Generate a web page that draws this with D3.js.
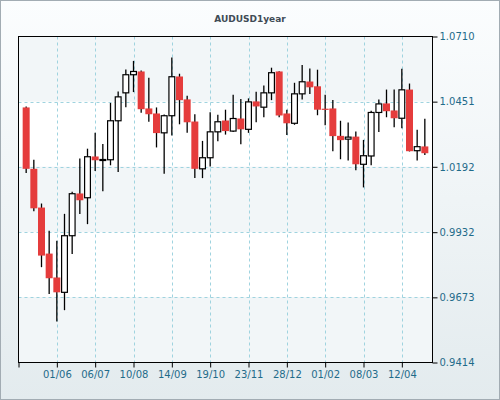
<!DOCTYPE html>
<html><head><meta charset="utf-8">
<script src="https://cdn.jsdelivr.net/npm/d3@7"></script>
<style>html,body{margin:0;padding:0;background:#fff}svg{display:block}</style>
</head><body>
<script>
const title = "AUDUSD1year";
const dates = ["2012-05-04","2012-05-11","2012-05-18","2012-05-25","2012-06-01","2012-06-08","2012-06-15","2012-06-22","2012-06-29",
"2012-07-06","2012-07-13","2012-07-20","2012-07-27","2012-08-03","2012-08-10","2012-08-17","2012-08-24","2012-08-31",
"2012-09-07","2012-09-14","2012-09-21","2012-09-28","2012-10-05","2012-10-12","2012-10-19","2012-10-26",
"2012-11-02","2012-11-09","2012-11-16","2012-11-23","2012-11-30","2012-12-07","2012-12-14","2012-12-21","2012-12-28",
"2013-01-04","2013-01-11","2013-01-18","2013-01-25","2013-02-01","2013-02-08","2013-02-15","2013-02-22",
"2013-03-01","2013-03-08","2013-03-15","2013-03-22","2013-03-29","2013-04-05","2013-04-12","2013-04-19","2013-04-26","2013-05-03"];
const open  = [1.0428,1.0184,1.0030,0.9847,0.9752,0.9693,0.9918,1.0086,1.0069,1.0233,1.0219,1.0220,1.0375,1.0486,1.0558,1.0571,1.0424,1.0404,
1.0327,1.0395,1.0551,1.0460,1.0372,1.0184,1.0228,1.0331,1.0376,1.0334,1.0384,1.0341,1.0452,1.0429,1.0486,1.0571,1.0404,1.0365,1.0482,
1.0531,1.0512,1.0423,1.0424,1.0315,1.0302,1.0312,1.0202,1.0235,1.0408,1.0444,1.0416,1.0385,1.0499,1.0256,1.0273];
const high  = [1.0432,1.0220,1.0046,0.9938,0.9898,1.0005,1.0093,1.0225,1.0264,1.0327,1.0283,1.0446,1.0491,1.0579,1.0613,1.0575,1.0546,1.0428,
1.0400,1.0627,1.0562,1.0474,1.0401,1.0295,1.0409,1.0399,1.0419,1.0478,1.0462,1.0464,1.0490,1.0515,1.0586,1.0572,1.0419,1.0526,1.0597,
1.0583,1.0578,1.0478,1.0458,1.0375,1.0368,1.0332,1.0299,1.0415,1.0460,1.0499,1.0499,1.0582,1.0523,1.0339,1.0383];
const low   = [1.0167,1.0015,0.9793,0.9686,0.9577,0.9622,0.9845,1.0004,0.9964,1.0175,1.0095,1.0198,1.0171,1.0429,1.0489,1.0407,1.0371,1.0269,
1.0164,1.0316,1.0361,1.0327,1.0147,1.0147,1.0193,1.0294,1.0320,1.0330,1.0282,1.0327,1.0369,1.0389,1.0457,1.0389,1.0318,1.0359,1.0460,
1.0481,1.0397,1.0357,1.0254,1.0222,1.0217,1.0178,1.0110,1.0198,1.0330,1.0389,1.0349,1.0345,1.0253,1.0217,1.0239];
const close = [1.0184,1.0027,0.9839,0.9749,0.9693,0.9918,1.0085,1.0059,1.0232,1.0218,1.0221,1.0375,1.0470,1.0558,1.0571,1.0421,1.0401,1.0326,
1.0395,1.0550,1.0457,1.0369,1.0184,1.0228,1.0331,1.0371,1.0334,1.0384,1.0341,1.0450,1.0432,1.0486,1.0566,1.0396,1.0365,1.0482,1.0530,
1.0508,1.0419,1.0420,1.0314,1.0298,1.0310,1.0202,1.0236,1.0408,1.0442,1.0413,1.0385,1.0498,1.0254,1.0272,1.0246];
const xTickDates  = ["2012-04-27","2012-06-01","2012-07-06","2012-08-10","2012-09-14","2012-10-19","2012-11-23","2012-12-28","2013-02-01","2013-03-08","2013-04-12"];
const xTickLabels = ["","01/06","06/07","10/08","14/09","19/10","23/11","28/12","01/02","08/03","12/04"];
const yTicks = [1.0710,1.0451,1.0192,0.9932,0.9673,0.9414];
const xDomain = ["2012-04-27","2013-05-10"];

const W = 500, H = 400;
const L = 18.5, R = 432.5, T = 36.5, B = 362.5;
const parse = d3.utcParse("%Y-%m-%d");
const data = dates.map((d,i)=>({date:parse(d),o:open[i],h:high[i],l:low[i],c:close[i]}));

const svg = d3.select("body").append("svg").attr("width",W).attr("height",H);
const defs = svg.append("defs");
const g1 = defs.append("linearGradient").attr("id","bg").attr("x1",0).attr("y1",0).attr("x2",0).attr("y2",1);
g1.append("stop").attr("offset","0%").attr("stop-color","#fbfdfe");
g1.append("stop").attr("offset","100%").attr("stop-color","#e3ebee");
svg.append("rect").attr("x",0.5).attr("y",0.5).attr("width",W-1).attr("height",H-1)
  .attr("fill","url(#bg)").attr("stroke","#a2acb3");

const x = d3.scaleUtc().domain(xDomain.map(parse)).range([L,R]);
const y = d3.scaleLinear().domain([0.9414,1.0710]).range([B,T]);

// bands
const bandEdges = yTicks.slice().sort((a,b)=>b-a);
for (let i=0;i<bandEdges.length-1;i++){
  svg.append("rect").attr("x",L).attr("y",y(bandEdges[i])).attr("width",R-L)
    .attr("height",y(bandEdges[i+1])-y(bandEdges[i]))
    .attr("fill", i%2===0 ? "#f2f6f8" : "#ffffff");
}
// grid
const grid = svg.append("g").attr("stroke","#9fd3df").attr("stroke-dasharray","3,3").attr("stroke-width",1);
xTickDates.slice(1).forEach(d=>{
  const xx = Math.round(x(parse(d)))+0.5;
  grid.append("line").attr("x1",xx).attr("x2",xx).attr("y1",T).attr("y2",B);
});
yTicks.slice(1,-1).forEach(v=>{
  const yy = Math.round(y(v))+0.5;
  grid.append("line").attr("x1",L).attr("x2",R).attr("y1",yy).attr("y2",yy);
});

// candles
const bw = 7;
const cg = svg.append("g");
data.forEach(d=>{
  const cx = x(d.date);
  cg.append("line").attr("x1",cx).attr("x2",cx).attr("y1",y(d.h)).attr("y2",y(d.l))
    .attr("stroke","#000").attr("stroke-width",1.3);
  const top = y(Math.max(d.o,d.c)), bot = y(Math.min(d.o,d.c));
  if (d.c >= d.o) {
    cg.append("rect").attr("x",cx-bw/2+0.6).attr("y",top).attr("width",bw-1.2).attr("height",Math.max(bot-top,1))
      .attr("fill","#fff").attr("stroke","#000").attr("stroke-width",1.2);
  } else {
    cg.append("rect").attr("x",cx-bw/2).attr("y",top).attr("width",bw).attr("height",Math.max(bot-top,1.2))
      .attr("fill","#e53c3c");
  }
});

// frame
svg.append("rect").attr("x",L).attr("y",T).attr("width",R-L).attr("height",B-T)
  .attr("fill","none").attr("stroke","#000").attr("stroke-width",1);

// axes
const fontFam = "'DejaVu Sans', Verdana, sans-serif";
const ya = svg.append("g").attr("transform",`translate(${R},0)`)
  .call(d3.axisRight(y).tickValues(yTicks).tickFormat(d3.format(".4f")).tickSize(5).tickPadding(2));
const xa = svg.append("g").attr("transform",`translate(0,${B})`)
  .call(d3.axisBottom(x).tickValues(xTickDates.map(parse)).tickFormat((d,i)=>xTickLabels[i]).tickSize(5).tickPadding(3));
[ya,xa].forEach(a=>{
  a.select(".domain").remove();
  a.selectAll(".tick line").attr("stroke","#000");
  a.selectAll(".tick text").attr("fill","#1f6b8a").style("font-family",fontFam).style("font-size","10px");
});

svg.append("text").attr("x",250).attr("y",22).attr("text-anchor","middle")
  .style("font-family",fontFam).style("font-size","9px").style("font-weight","bold")
  .attr("fill","#404b55").text(title);
</script>
</body></html>
